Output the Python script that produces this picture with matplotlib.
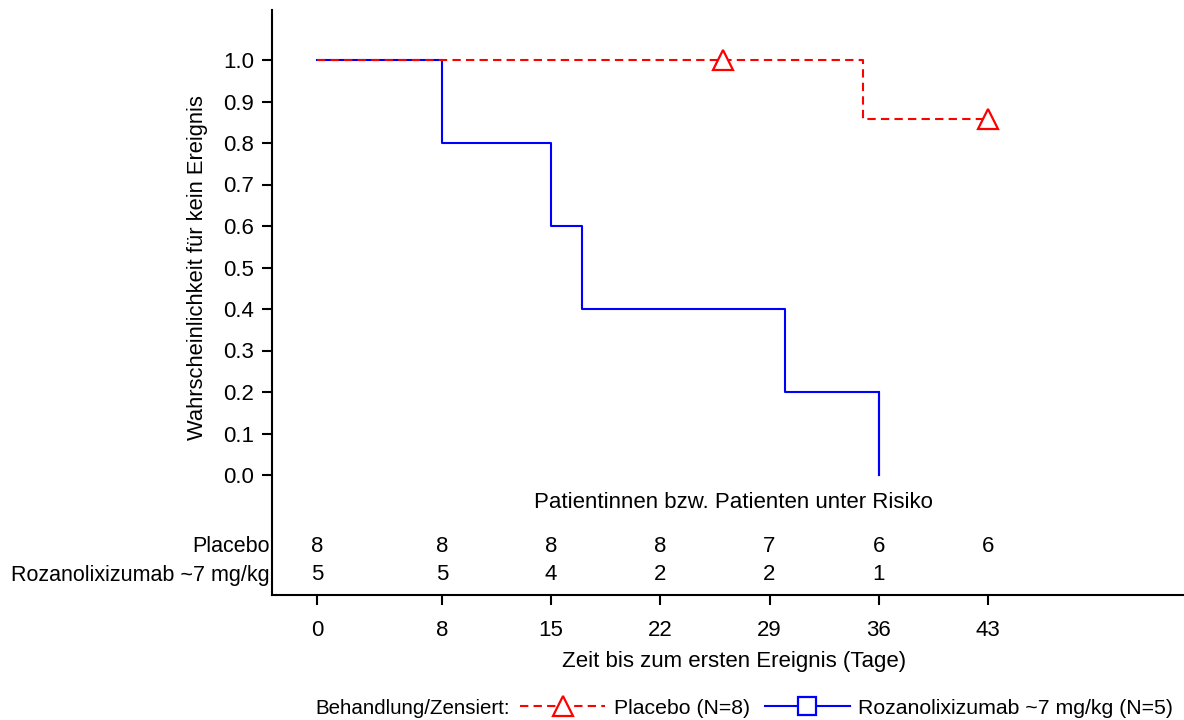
import matplotlib
matplotlib.use("Agg")
import matplotlib.pyplot as plt
from matplotlib.lines import Line2D

plt.rcParams['font.family'] = ['Liberation Sans', 'DejaVu Sans']

# Data
placebo_t = [0, 35, 43]
placebo_s = [1.0, 0.857, 0.857]
placebo_cens_t = [26, 43]
placebo_cens_s = [1.0, 0.857]

roza_t = [0, 8, 15, 17, 30, 36]
roza_s = [1.0, 0.8, 0.6, 0.4, 0.2, 0.0]

risk_times = [0, 8, 15, 22, 29, 36, 43]
risk_placebo = [8, 8, 8, 8, 7, 6, 6]
risk_roza = [5, 5, 4, 2, 2, 1]

group_labels = ["Placebo", "Rozanolixizumab ~7 mg/kg"]
legend_labels = ["Placebo (N=8)", "Rozanolixizumab ~7 mg/kg (N=5)"]

W, H = 1184, 720
fig = plt.figure(figsize=(W / 100, H / 100), dpi=100)
ax = fig.add_axes([272 / W, (H - 595) / H, (1184 - 272) / W, (595 - 10) / H])

px_per_day = (988 - 317) / 43
px_per_unit = 415
ax.set_xlim(-(317 - 272) / px_per_day, (1184 - 317) / px_per_day)
ax.set_ylim(-(595 - 475) / px_per_unit, 1 + (60 - 10) / px_per_unit)

fs = 16
red = '#ff0000'
blue = '#0000ff'
dash = (0, (4, 2.5))
ax.step(placebo_t, placebo_s, where='post', color=red, ls=dash, lw=1.5, zorder=3)
ax.plot(placebo_cens_t, placebo_cens_s, ls='none', marker='^', ms=14, mfc='white',
        mec=red, mew=1.6, zorder=4)
ax.step(roza_t, roza_s, where='post', color=blue, lw=1.5, zorder=2)
ax.plot([roza_t[-1], roza_t[-1]], [roza_s[-2], roza_s[-1]], color=blue, lw=1.5, zorder=2)

for s in ['top', 'right']:
    ax.spines[s].set_visible(False)
for s in ['left', 'bottom']:
    ax.spines[s].set_linewidth(1.5)

ax.set_yticks([i / 10 for i in range(11)])
ax.set_yticklabels([f"{i / 10:.1f}" for i in range(11)], fontsize=fs)
ax.set_xticks(risk_times)
ax.set_xticklabels([str(t) for t in risk_times], fontsize=fs)
ax.tick_params(axis='both', direction='out', length=7, width=1.5)
ax.tick_params(axis='y', pad=6)
ax.tick_params(axis='x', pad=11)

ax.text(-0.082, 0.5, "Wahrscheinlichkeit für kein Ereignis", transform=ax.get_yaxis_transform(),
        rotation=90, ha='center', va='center', fontsize=15.8)

# risk table
y_head = -(503 - 475) / px_per_unit
y_p = -(547 - 475) / px_per_unit
y_r = -(575 - 475) / px_per_unit
ax.text(0.5055, y_head, "Patientinnen bzw. Patienten unter Risiko", transform=ax.get_yaxis_transform(),
        ha='center', va='center', fontsize=fs)
for t, n in zip(risk_times, risk_placebo):
    ax.text(t, y_p, str(n), ha='center', va='center', fontsize=fs)
for t, n in zip(risk_times, risk_roza):
    ax.text(t, y_r, str(n), ha='center', va='center', fontsize=fs)
ax.text(-0.003, y_p, group_labels[0], transform=ax.get_yaxis_transform(), ha='right', va='center', fontsize=15.5)
ax.text(-0.003, y_r, group_labels[1], transform=ax.get_yaxis_transform(), ha='right', va='center', fontsize=15.5)

ax.text(0.507, -(662 - 595) / 585, "Zeit bis zum ersten Ereignis (Tage)", transform=ax.transAxes,
        ha='center', va='center', fontsize=fs)

# legend
fig.text(315 / W, 1 - 708 / H, "Behandlung/Zensiert:", ha='left', va='center', fontsize=14.8)
h1 = Line2D([], [], color=red, ls=dash, lw=1.5, marker='^', ms=14, mfc='white', mec=red, mew=1.6)
h2 = Line2D([], [], color=blue, lw=1.5, marker='s', ms=13, mfc='white', mec=blue, mew=1.6)
fig.legend([h1, h2], legend_labels, loc='center left', bbox_to_anchor=(520 / W, 1 - 708 / H),
           ncol=2, frameon=False, fontsize=15.3, handlelength=4.0, columnspacing=0.7,
           handletextpad=0.4, borderpad=0, borderaxespad=0)

fig.savefig("out.png", dpi=100)
